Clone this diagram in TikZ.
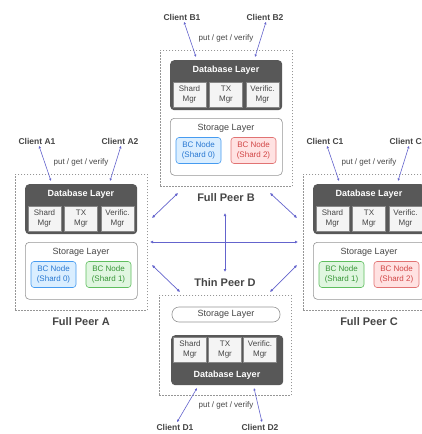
\documentclass[tikz,border=0pt]{standalone}
\usepackage{fontspec}
\setmainfont{Liberation Sans}
\usetikzlibrary{arrows.meta}
\definecolor{linkc}{RGB}{100,100,205}
\definecolor{dashc}{RGB}{150,150,150}
\definecolor{darkc}{RGB}{88,88,88}
\definecolor{txtc}{RGB}{70,70,70}
\definecolor{mgrfill}{RGB}{244,244,244}
\definecolor{mgrdraw}{RGB}{135,135,135}
\definecolor{stdraw}{RGB}{150,150,150}
\definecolor{bluefill}{RGB}{218,238,255}
\definecolor{bluedraw}{RGB}{70,155,240}
\definecolor{bluetxt}{RGB}{40,120,210}
\definecolor{redfill}{RGB}{255,226,226}
\definecolor{reddraw}{RGB}{225,115,115}
\definecolor{redtxt}{RGB}{210,70,70}
\definecolor{greenfill}{RGB}{224,246,224}
\definecolor{greendraw}{RGB}{95,190,95}
\definecolor{greentxt}{RGB}{55,150,55}
\tikzset{
  dashbox/.style={draw=dashc, dash pattern=on 1.5pt off 1.5pt, line width=0.6pt, fill=white,
    anchor=north west, inner sep=0pt, minimum width=132pt, minimum height=136pt},
  dbbox/.style={fill=darkc, draw=none, rounded corners=4pt, anchor=north west, inner sep=0pt,
    minimum width=112pt, minimum height=50pt},
  dblabel/.style={text=white, font=\fontsize{9}{10}\selectfont\bfseries, inner sep=0pt},
  mgr/.style={fill=mgrfill, draw=mgrdraw, line width=0.5pt, inner sep=0pt, minimum width=33pt,
    minimum height=25pt, align=center, text=txtc, font=\fontsize{8}{9.5}\selectfont},
  stbox/.style={fill=white, draw=stdraw, line width=0.6pt, rounded corners=4pt, anchor=north west,
    inner sep=0pt, minimum width=112pt, minimum height=57pt},
  stlabel/.style={text=txtc, font=\fontsize{9}{10}\selectfont, inner sep=0pt},
  bcnode/.style={rounded corners=3pt, line width=0.6pt, inner sep=0pt, minimum width=45pt,
    minimum height=26pt, align=center, font=\fontsize{8}{9.5}\selectfont},
  bcblue/.style={bcnode, fill=bluefill, draw=bluedraw, text=bluetxt},
  bcred/.style={bcnode, fill=redfill, draw=reddraw, text=redtxt},
  bcgreen/.style={bcnode, fill=greenfill, draw=greendraw, text=greentxt},
  client/.style={text=txtc, font=\fontsize{8.5}{10}\selectfont\bfseries, inner sep=0pt},
  pgv/.style={text=txtc, font=\fontsize{8}{9}\selectfont, inner sep=0pt},
  ptitle/.style={text=txtc, font=\fontsize{11}{12}\selectfont\bfseries, inner sep=0pt},
  clink/.style={draw=linkc, line width=0.6pt, {Latex[length=2.5pt,width=2.5pt]}-{Latex[length=2.5pt,width=2.5pt]}},
  plink/.style={draw=linkc, line width=0.7pt, {Latex[length=3pt,width=3pt]}-{Latex[length=3pt,width=3pt]}},
}
% #1 name letter, #2 X, #3 Y, #4 style1, #5 shard1, #6 style2, #7 shard2, #8 title
\newcommand\fullpeer[8]{%
  \node[dashbox] (#1dash) at (#2,#3) {};
  \node[dbbox] (#1db) at ({#2+10},{#3+10}) {};
  \node[dblabel] (#1dbl) at ({#2+66},{#3+20.5}) {Database Layer};
  \node[mgr] (#1shard) at ({#2+29.5},{#3+44.5}) {Shard\\Mgr};
  \node[mgr] (#1tx) at ({#2+66},{#3+44.5}) {TX\\Mgr};
  \node[mgr] (#1ver) at ({#2+102.5},{#3+44.5}) {Verific.\\Mgr};
  \node[stbox] (#1st) at ({#2+10},{#3+68}) {};
  \node[stlabel] (#1stl) at ({#2+66},{#3+78.5}) {Storage Layer};
  \node[#4] (#1bca) at ({#2+38.5},{#3+100.5}) {BC Node\\(Shard #5)};
  \node[#6] (#1bcb) at ({#2+93.5},{#3+100.5}) {BC Node\\(Shard #7)};
  \node[ptitle] (#1title) at ({#2+66},{#3+148}) {#8};
  \node[client] (#1c1) at ({#2+22},{#3-33}) {Client #11};
  \node[client] (#1c2) at ({#2+105},{#3-33}) {Client #12};
  \node[pgv] (#1pgv) at ({#2+66},{#3-12}) {put / get / verify};
  \coordinate (#1q1) at ({#2+36},{#3+7});
  \coordinate (#1q2) at ({#2+95},{#3+7});
  \draw[clink] ([xshift=2pt,yshift=-1.5pt]#1c1.south) -- (#1q1);
  \draw[clink] ([xshift=1pt,yshift=-1.5pt]#1c2.south) -- (#1q2);
}
\begin{document}
\begin{tikzpicture}[x=1pt,y=-1pt]
\useasboundingbox (0,0) rectangle (422,434);
\clip (0,0) rectangle (422,434);
\fill[white] (0,0) rectangle (422,434);

\fullpeer{B}{160}{50}{bcblue}{0}{bcred}{2}{Full Peer B}
\fullpeer{A}{15}{174}{bcblue}{0}{bcgreen}{1}{Full Peer A}
\fullpeer{C}{303}{174}{bcgreen}{1}{bcred}{2}{Full Peer C}

% Thin peer D
\node[dashbox, minimum height=100pt] (Ddash) at (159,295) {};
\node[ptitle] (Dtitle) at (225,283) {Thin Peer D};
\node[fill=white, draw=stdraw, line width=0.6pt, rounded corners=7pt, inner sep=0pt,
  minimum width=108pt, minimum height=15pt, text=txtc, font=\fontsize{9}{10}\selectfont] (Dst) at (226,314.5) {Storage Layer};
\node[dbbox] (Ddb) at (171,335) {};
\node[dblabel] (Ddbl) at (227,375) {Database Layer};
\node[mgr] (Dshard) at (190,349.5) {Shard\\Mgr};
\node[mgr] (Dtx) at (225,349.5) {TX\\Mgr};
\node[mgr] (Dver) at (260,349.5) {Verific.\\Mgr};
\node[pgv] (Dpgv) at (226,405) {put / get / verify};
\node[client] (Dc1) at (175,427) {Client D1};
\node[client] (Dc2) at (260,427) {Client D2};
\coordinate (Dq1) at (197,388);
\coordinate (Dq2) at (254,388);
\draw[clink] (Dq1) -- ([xshift=2pt,yshift=1.5pt]Dc1.north);
\draw[clink] (Dq2) -- ([xshift=2pt,yshift=1.5pt]Dc2.north);

% peer links
\coordinate (ab1) at (152,218); \coordinate (ab2) at (178,193);
\coordinate (bc1) at (270,193); \coordinate (bc2) at (297,218);
\coordinate (ac1) at (150,242); \coordinate (ac2) at (298,242);
\coordinate (bd1) at (225,213); \coordinate (bd2) at (225,272);
\coordinate (ad1) at (152,265); \coordinate (ad2) at (180,292);
\coordinate (cd1) at (297,265); \coordinate (cd2) at (270,292);
\draw[plink] (ab1) -- (ab2);
\draw[plink] (bc1) -- (bc2);
\draw[plink] (ac1) -- (ac2);
\draw[plink] (bd1) -- (bd2);
\draw[plink] (ad1) -- (ad2);
\draw[plink] (cd1) -- (cd2);
\end{tikzpicture}
\end{document}
